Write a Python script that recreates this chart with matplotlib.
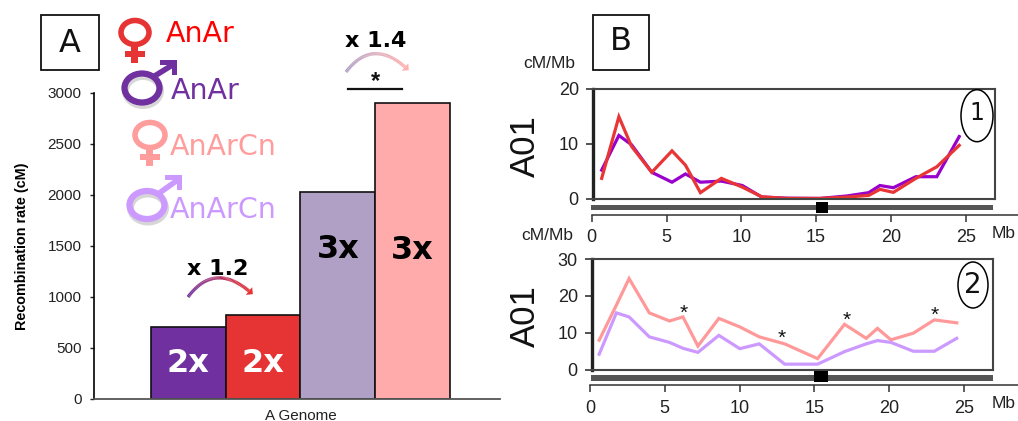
import numpy as np
import matplotlib
matplotlib.use('Agg')
import matplotlib.pyplot as plt
from matplotlib.patches import Ellipse, Rectangle, Polygon
from matplotlib.collections import LineCollection
from matplotlib.colors import to_rgb

# panel A
bar_names = ['AnAr male', 'AnAr female', 'AnArCn male', 'AnArCn female']
bar_values = [705, 822, 2025, 2900]
bar_colors = ['#7030a0', '#e63333', '#b0a0c5', '#ffabab']
bar_labels = ['2x', '2x', '3x', '3x']
bar_label_colors = ['white', 'white', 'black', 'black']
bar_label_y = [345, 345, 1460, 1450]

# panel B
mb = [0.6, 1.75, 2.6, 3.95, 5.3, 6.2, 7.2, 8.6, 10.0, 11.3, 13.0, 15.2, 17.0, 18.45, 19.2, 20.1, 21.6, 23.0, 24.5]
anar_male = [5.2, 11.5, 9.8, 4.8, 3.0, 4.5, 3.0, 3.2, 2.4, 0.3, 0.1, 0.05, 0.5, 1.1, 2.4, 2.0, 4.0, 4.0, 11.3]
anar_female = [3.7, 14.9, 9.5, 4.8, 8.7, 6.1, 1.1, 3.7, 2.1, 0.35, 0.05, 0.05, 0.3, 0.6, 1.7, 1.15, 3.7, 5.8, 9.7]
cn_female = [8.0, 17.5, 24.7, 15.4, 13.2, 14.3, 6.4, 13.9, 11.6, 8.9, 7.0, 3.0, 12.3, 8.5, 11.2, 8.1, 9.9, 13.5, 12.7]
cn_male = [4.2, 15.4, 14.3, 8.9, 7.4, 5.8, 4.7, 9.3, 5.7, 7.0, 1.5, 1.5, 4.9, 7.0, 7.9, 7.4, 5.0, 5.0, 8.5]

W, H = 1018, 421
plt.rcParams['font.family'] = ['Liberation Sans', 'DejaVu Sans']
fig = plt.figure(figsize=(W / 100, H / 100), dpi=100)


def px_axes(left, top, right, bottom):
    return fig.add_axes([left / W, 1 - bottom / H, (right - left) / W, (bottom - top) / H])


# bars
ax = px_axes(94, 92.7, 500, 399)
ax.set_facecolor('none')
bar_x = np.arange(len(bar_values))
ax.bar(bar_x, bar_values, width=1, color=bar_colors, edgecolor='#111111', linewidth=1.2)
ax.set_xlim(-1.263, 4.17)
ax.set_ylim(0, 3000)
ax.set_yticks(range(0, 3001, 500))
ax.tick_params(axis='y', labelsize=11, length=3, width=1, color='#222222', labelcolor='#222222', pad=6)
ax.set_xticks([1.5])
ax.set_xticklabels(['A Genome'], fontsize=11)
ax.tick_params(axis='x', length=0, pad=7, labelcolor='#222222')
ax.spines['top'].set_visible(False)
ax.spines['right'].set_visible(False)
ax.spines['left'].set_linewidth(1.2)
ax.spines['bottom'].set_color('#555555')
ax.spines['bottom'].set_linewidth(1.3)
ax.set_ylabel('Recombination rate (cM)', fontsize=10.4, fontweight='bold', labelpad=13)
for i in bar_x:
    ax.text(i, bar_label_y[i], bar_labels[i], color=bar_label_colors[i], fontsize=23,
            fontweight='bold', family='DejaVu Sans', ha='center', va='center')


def line_panel(box, scale_box, ymax, yticks, series, xlim_left=0.0):
    a = px_axes(*box)
    a.set_xlim(xlim_left, xlim_left + (box[2] - box[0]) / 14.96)
    a.set_ylim(0, ymax)
    a.set_xticks([])
    a.set_yticks(yticks)
    a.tick_params(axis='y', labelsize=13, length=5, width=1.2, color='#333333', labelcolor='#222222', pad=5)
    for s in a.spines.values():
        s.set_color('#444444')
        s.set_linewidth(1.5)
    a.spines['left'].set_linewidth(2.4)
    a.spines['left'].set_color('#222222')
    for values, color in series:
        a.plot(mb, values, color=color, lw=2.3, solid_joinstyle='miter', clip_on=False)
    # x scale sits below the chromosome bar
    s = px_axes(*scale_box)
    s.set_facecolor('none')
    s.set_xlim(0, (scale_box[2] - scale_box[0]) / 14.96)
    s.set_yticks([])
    s.set_xticks(range(0, 26, 5))
    s.tick_params(axis='x', labelsize=13, length=5, width=1.1, color='#333333', labelcolor='#222222', pad=5.5)
    for k in ['top', 'left', 'right']:
        s.spines[k].set_visible(False)
    s.spines['bottom'].set_color('#333333')
    s.spines['bottom'].set_linewidth(1.1)
    return a


line_panel((592.7, 88.7, 995, 198.7), (591.7, 200, 1018, 214.5), 20, [0, 10, 20],
           [(anar_male, '#9900cc'), (anar_female, '#e83535')])
line_panel((591.7, 259, 993, 369.7), (590, 372, 1018, 385), 30, [0, 10, 20, 30],
           [(cn_female, '#ff9999'), (cn_male, '#cc99ff')], xlim_left=0.1)

# everything hand placed goes on a pixel overlay
ov = fig.add_axes([0, 0, 1, 1])
ov.set_xlim(0, W)
ov.set_ylim(H, 0)
ov.axis('off')
ov.patch.set_alpha(0)

for x0, y0, x1, y1 in [(41, 15, 99, 70), (593, 15, 649, 70)]:
    ov.add_patch(Rectangle((x0, y0), x1 - x0, y1 - y0, fill=False, ec='#111111', lw=1.3))
ov.text(70, 43, 'A', fontsize=23, family='DejaVu Sans', ha='center', va='center', color='#111111')
ov.text(621, 41, 'B', fontsize=23, family='DejaVu Sans', ha='center', va='center', color='#111111')


def female(cx, cy, rx, ry, color):
    ov.add_patch(Ellipse((cx, cy), 2 * rx, 2 * ry, fill=False, ec=color, lw=4))
    ov.add_patch(Rectangle((cx - 3.5, cy + ry), 7, 18, fc=color, ec='none'))
    ov.add_patch(Rectangle((cx - 10, cy + ry + 6), 20, 6.5, fc=color, ec='none'))


def male(cx, cy, rx, ry, tip, color):
    tx, ty = tip
    ov.add_patch(Ellipse((cx + 1, cy + 3), 2 * rx, 2 * ry, fill=False, ec='#bbbbbb', lw=5, alpha=0.6))
    ov.add_patch(Ellipse((cx, cy), 2 * rx, 2 * ry, fill=False, ec=color, lw=4.5))
    ov.plot([cx + 11, tx - 3], [cy - 11, ty + 4], color=color, lw=4, solid_capstyle='butt')
    ov.add_patch(Polygon([(tx - 17, ty), (tx, ty), (tx, ty + 15), (tx - 5, ty + 15),
                          (tx - 5, ty + 5), (tx - 17, ty + 5)], fc=color, ec='none'))


female(135, 32.5, 14, 12, '#e63333')
male(142, 88, 17.5, 14.5, (177, 60), '#7030a0')
female(150, 135, 15, 12.5, '#ff9c9c')
male(147, 205, 17.5, 14, (182, 175), '#cc99ff')

legend_names = ['AnAr', 'AnAr', 'AnArCn', 'AnArCn']
legend_colors = ['#ff0000', '#7030a0', '#ff9c9c', '#cc99ff']
legend_pos = [(166, 34), (171, 91), (170, 147), (170, 210)]
for name, c, (lx, ly) in zip(legend_names, legend_colors, legend_pos):
    ov.text(lx, ly, name, color=c, fontsize=20.5, family='DejaVu Sans', ha='left', va='center')


def grad_arc(p0, p1, p2, c0, c1, lw=2.4):
    t = np.linspace(0, 1, 60)[:, None]
    p0, p1, p2 = np.array(p0, float), np.array(p1, float), np.array(p2, float)
    pts = (1 - t) ** 2 * p0 + 2 * t * (1 - t) * p1 + t ** 2 * p2
    segs = np.stack([pts[:-1], pts[1:]], axis=1)
    c0, c1 = np.array(to_rgb(c0)), np.array(to_rgb(c1))
    cols = c0 + (c1 - c0) * t[:-1]
    ov.add_collection(LineCollection(segs, colors=cols, linewidths=lw, capstyle='butt'))
    # small head along the end tangent
    d = (p2 - p1) / np.hypot(*(p2 - p1))
    n = np.array([-d[1], d[0]])
    ov.add_patch(Polygon([p2 + d * 5, p2 + n * 5, p2 - n * 5], fc=c1, ec='none'))


grad_arc((188, 297), (214, 262), (249, 291), '#7030a0', '#e63333')
grad_arc((346, 72), (372, 38), (405, 67), '#b0a0c5', '#ffb0b0')
ov.plot([348, 402], [88.5, 88.5], color='#111111', lw=1.6)
ov.text(376, 82, '*', fontsize=17, fontweight='bold', ha='center', va='center', color='#111111')
ov.text(218, 269, 'x 1.2', fontsize=16, fontweight='bold', family='DejaVu Sans', ha='center', va='center', color='black')
ov.text(376, 41, 'x 1.4', fontsize=16, fontweight='bold', family='DejaVu Sans', ha='center', va='center', color='black')

# chromosome bars and centromeres
ov.add_patch(Rectangle((591, 205), 402, 5, fc='#555555', ec='none'))
ov.add_patch(Rectangle((816, 202), 12, 10.5, fc='black', ec='none'))
ov.add_patch(Rectangle((591, 375), 402, 5.5, fc='#555555', ec='none'))
ov.add_patch(Rectangle((814, 371), 14, 10.5, fc='black', ec='none'))

ov.text(549, 64, 'cM/Mb', fontsize=12.5, ha='center', va='center', color='#222222')
ov.text(547, 235, 'cM/Mb', fontsize=12.5, ha='center', va='center', color='#222222')
ov.text(1004, 233, 'Mb', fontsize=12.5, ha='center', va='center', color='#222222')
ov.text(1004, 403, 'Mb', fontsize=12.5, ha='center', va='center', color='#222222')
for yc in [146, 316]:
    ov.text(525, yc, 'A01', fontsize=25, rotation=90, ha='center', va='center',
            family=['Liberation Sans Narrow', 'Liberation Sans'], color='#111111')

ov.add_patch(Ellipse((977, 115.7), 32, 52, fill=False, ec='black', lw=1.1))
ov.text(977, 113, '1', fontsize=17, ha='center', va='center', family='DejaVu Sans', color='#111111')
ov.add_patch(Ellipse((973, 285), 30, 46, fill=False, ec='black', lw=1.1))
ov.text(973, 285, '2', fontsize=20, ha='center', va='center', family='DejaVu Sans', color='#111111')

star_pos = [(684, 313), (781.7, 338), (846.7, 320), (935, 315)]
for sx, sy in star_pos:
    ov.text(sx, sy, '*', fontsize=15, ha='center', va='center', color='#111111')

fig.savefig('out.png', dpi=100)
